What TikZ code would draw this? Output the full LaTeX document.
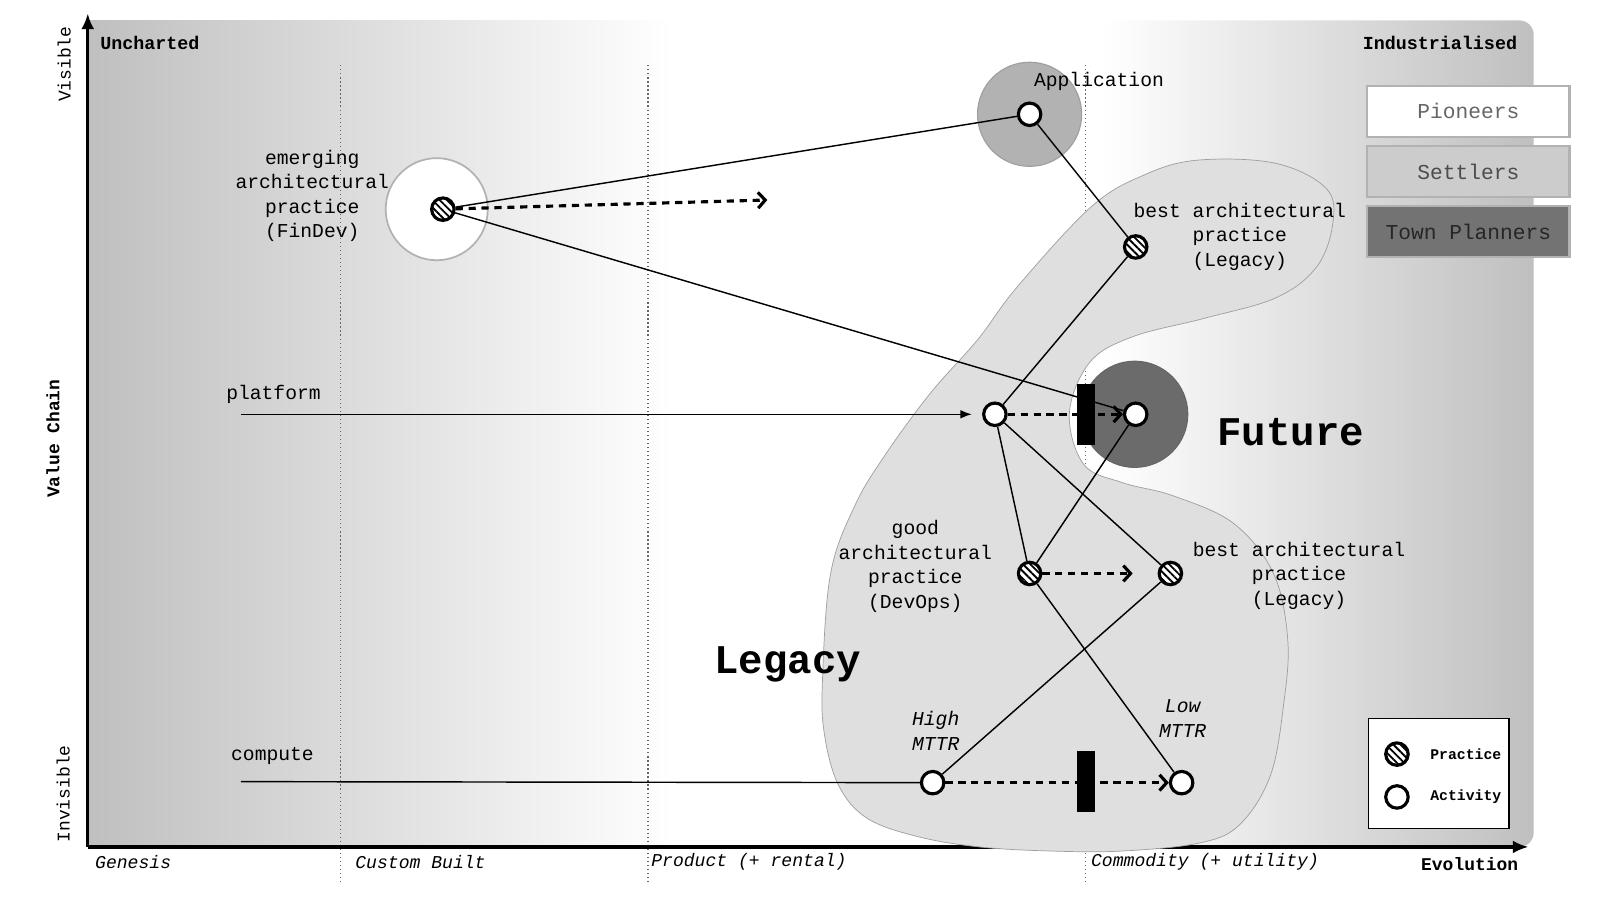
\documentclass[tikz,border=0pt]{standalone}
\usepackage{fontspec}
\setmainfont{Liberation Mono}
\usepackage{tikz}
\usetikzlibrary{arrows.meta,positioning,calc,patterns.meta}

\begin{document}
\begin{tikzpicture}[
    x=0.025cm, y=-0.025cm,
    activity/.style={circle, draw, line width=2.2pt, fill=white, minimum size=0.55cm, inner sep=0pt},
    practice/.style={activity, postaction={pattern={Lines[angle=-45,distance=3.6pt,line width=1.3pt]}}},
    link/.style={line width=1pt},
    move/.style={-{Straight Barb[length=5pt,width=11pt]}, line width=2.2pt, dash pattern=on 5pt off 4pt},
    inertia/.style={fill=black, minimum width=0.43cm, minimum height=1.48cm, inner sep=0pt},
    lbl/.style={font=\fontsize{13.7}{17.1}\selectfont, align=center},
    stage/.style={font=\fontsize{12.6}{15}\selectfont\itshape, anchor=west, inner sep=0pt},
    axislbl/.style={font=\fontsize{12.5}{15}\selectfont, rotate=90, inner sep=0pt},
    team/.style={draw=gray!60, line width=1.5pt, minimum width=4.95cm, minimum height=1.25cm, font=\fontsize{14.8}{17}\selectfont},
    big/.style={font=\fontsize{28.4}{32}\selectfont\bfseries}
]
    \useasboundingbox (0,0) rectangle (1568,882);

    % Evolution background
    \shade[left color=black!25, right color=white] (86,20) rectangle (660,830);
    \shade[left color=white, right color=black!25, rounded corners=0.35cm] (1080,20) rectangle (1503,830);

    % Stage lines
    \draw[dotted, gray!80!black, line width=0.8pt] (334,64) -- (334,865);
    \draw[dotted, gray!80!black, line width=0.8pt] (635,64) -- (635,865);
    \draw[dotted, gray!80!black, line width=0.8pt] (1064,64) -- (1064,865);

    % Axes
    \coordinate (origin) at (86,830);
    \coordinate (ytip) at (86,13);
    \coordinate (xtip) at (1498,830);
    \draw[-{Latex[length=11pt,width=9pt]}, line width=2.4pt] (origin) -- (ytip);
    \draw[-{Latex[length=11pt,width=9pt]}, line width=2.4pt] (origin) -- (xtip);

    % Zones
    \node[circle, draw=gray!60, line width=1.2pt, fill=white, minimum size=2.5cm] (findevzone) at (428,205) {};
    \node[circle, draw=gray!75, line width=0.8pt, fill=gray!60, minimum size=2.55cm] (appzone) at (1009,112) {};

    % Legacy blob
    \draw[draw=gray!75, fill=gray!25, line width=0.5pt] plot[smooth cycle, tension=0.6] coordinates {
        (1173,157) (1250,160) (1300,185) (1306,220) (1290,262) (1250,292) (1180,312)
        (1110,330) (1068,355) (1048,405) (1062,455) (1100,473) (1150,486) (1209,513)
        (1248,562) (1262,627) (1258,690) (1245,760) (1215,808) (1176,826) (1100,834)
        (1030,834) (960,830) (900,820) (850,802) (822,770) (808,720) (806,667) (814,562)
        (838,495) (868,445) (912,385) (958,333) (997,281) (1069,203) (1120,172)};

    \node[circle, draw=black!60, line width=0.8pt, fill=black!58, minimum size=2.6cm] (futurezone) at (1112,406) {};

    % Labels
    \node[axislbl] at (63,63) {Visible};
    \node[axislbl, font=\fontsize{12.5}{15}\selectfont\bfseries] at (52,430) {Value Chain};
    \node[axislbl] at (62,778) {Invisible};
    \node[font=\fontsize{12.8}{15}\selectfont\bfseries, anchor=west, inner sep=0pt] at (98,42) {Uncharted};
    \node[font=\fontsize{12.8}{15}\selectfont\bfseries, anchor=east, inner sep=0pt] at (1487,42) {Industrialised};
    \node[stage] at (93,845) {Genesis};
    \node[stage] at (348,845) {Custom Built};
    \node[stage] at (638,845) {Product (+ rental)};
    \node[stage] at (1069,845) {Commodity (+ utility)};
    \node[font=\fontsize{12.5}{15}\selectfont\bfseries, anchor=east, inner sep=0pt] at (1488,847) {Evolution};

    \node[lbl] at (306,192) {emerging\\architectural\\practice\\(FinDev)};
    \node[lbl] at (1077,80) {Application};
    \node[lbl] at (1215,232) {best architectural\\practice\\(Legacy)};
    \node[lbl] at (897,555) {good\\architectural\\practice\\(DevOps)};
    \node[lbl] at (1273,564) {best architectural\\practice\\(Legacy)};
    \node[lbl, font=\fontsize{13.7}{17.1}\selectfont\itshape] at (917,716) {High\\MTTR};
    \node[lbl, font=\fontsize{13.7}{17.1}\selectfont\itshape] at (1159,704) {Low\\MTTR};
    \node[lbl] at (268,387) {platform};
    \node[lbl] at (267,741) {compute};
    \node[big] at (772,651) {Legacy};
    \node[big] at (1265,423) {Future};

    % Components
    \node[practice] (findev) at (434,205) {};
    \node[activity] (app) at (1009,112) {};
    \node[practice] (bestTop) at (1113,242) {};
    \node[activity] (platA) at (975,406) {};
    \node[activity] (platB) at (1113,406) {};
    \node[practice] (devops) at (1009,562) {};
    \node[practice] (bestLow) at (1147,562) {};
    \node[activity] (highM) at (914,767) {};
    \node[activity] (lowM) at (1158,767) {};
    \coordinate (platformStart) at (236,406);
    \coordinate (computeStart) at (236,766);
    \coordinate (findevTo) at (752,196);
    \coordinate (devopsTo) at (1110,562);

    % Value chain links
    \draw[link] (findev) -- (app);
    \draw[link] (findev) -- (platB);
    \draw[link] (app) -- (bestTop);
    \draw[link] (bestTop) -- (platA);
    \draw[link] (platA) -- (devops);
    \draw[link] (platA) -- (bestLow);
    \draw[link] (platB) -- (devops);
    \draw[link] (devops) -- (lowM);
    \draw[link] (bestLow) -- (highM);
    \draw[link, -{Latex[length=8pt,width=6pt]}, shorten >=0.25cm] (platformStart) -- (platA);
    \draw[link] (computeStart) -- (highM);

    % Movement
    \draw[move] (findev) -- (findevTo);
    \draw[move] (platA) -- (platB);
    \draw[move] (devops) -- (devopsTo);
    \draw[move] (highM) -- (lowM);

    % Inertia
    \node[inertia] (barPlatform) at (1064,406) {};
    \node[inertia] (barCompute) at (1064,766) {};

    % Team legend
    \node[team, fill=white, text=gray!80!black] (pioneers) at (1439,109) {Pioneers};
    \node[team, fill=gray!40, text=black!70] (settlers) at (1439,168) {Settlers};
    \node[team, fill=black!55, text=black!85] (planners) at (1439,227) {Town Planners};

    % Key
    \node[draw, line width=1pt, fill=white, minimum width=3.45cm, minimum height=2.7cm] (key) at (1410,758) {};
    \node[practice] (keyPractice) at (1369,739) {};
    \node[activity] (keyActivity) at (1369,781) {};
    \node[font=\fontsize{10.3}{12}\selectfont\bfseries, right=0.38cm of keyPractice] {Practice};
    \node[font=\fontsize{10.3}{12}\selectfont\bfseries, right=0.38cm of keyActivity] {Activity};
\end{tikzpicture}
\end{document}
